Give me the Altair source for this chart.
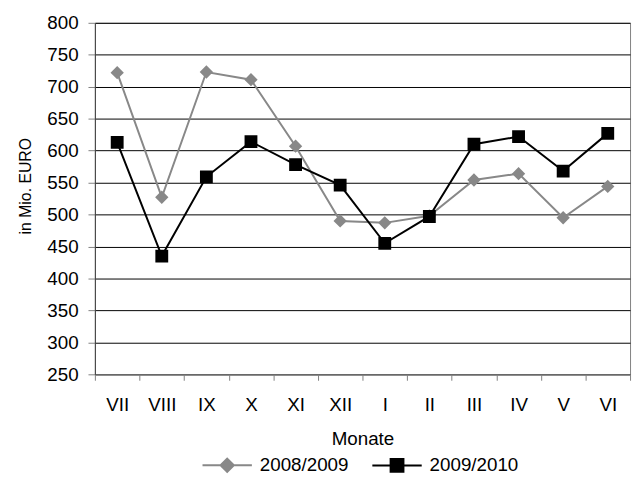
import altair as alt
import pandas as pd

months = ["VII", "VIII", "IX", "X", "XI", "XII", "I", "II", "III", "IV", "V", "VI"]
s2008 = [722, 527, 723, 711, 607, 490, 487, 498, 554, 564, 495, 544]
s2009 = [613, 435, 559, 614, 578, 546, 455, 497, 610, 622, 568, 627]
series = ["2008/2009", "2009/2010"]
y_ticks = list(range(250, 801, 50))

rows = []
for m, a, b in zip(months, s2008, s2009):
    rows.append({"Monat": m, "Reihe": series[0], "Wert": a})
    rows.append({"Monat": m, "Reihe": series[1], "Wert": b})
df = pd.DataFrame(rows)

FONT = "Liberation Sans"
FS = 19
colors = ["#888888", "#000000"]

x_enc = alt.X("Monat:N", sort=months, title="Monate",
              scale=alt.Scale(paddingInner=0, paddingOuter=0),
              axis=alt.Axis(labelAngle=0, tickBand="extent", tickSize=6,
                            labelPadding=16, titlePadding=15, grid=False,
                            domainColor="#808080", tickColor="#808080"))
y_enc = alt.Y("Wert:Q", title="in Mio. EURO",
              scale=alt.Scale(domain=[250, 800], nice=False, zero=False),
              axis=alt.Axis(values=y_ticks, tickSize=7, labelPadding=10,
                            titlePadding=13, titleFontSize=16, titleY=165,
                            grid=True, gridColor="#000000", gridOpacity=1,
                            gridWidth=1, domainColor="#404040",
                            tickColor="#808080"))

legend_paths = [
    "M-1,0H1M0,-0.27L0.27,0L0,0.27L-0.27,0Z",
    "M-1,0H1M-0.26,-0.26H0.26V0.26H-0.26Z",
]
leg = alt.Legend(title=None, orient="none", direction="horizontal",
                 legendX=108, legendY=422, padding=0,
                 symbolSize=2500, symbolStrokeWidth=2, labelFontSize=FS,
                 labelFont=FONT, labelColor="#000000", columnPadding=20,
                 labelOffset=7)

base = alt.Chart(df)
color_enc = alt.Color("Reihe:N", scale=alt.Scale(domain=series, range=colors), legend=leg)

lines = base.mark_line(strokeWidth=2).encode(
    x=x_enc, y=y_enc, color=color_enc,
)

points = base.mark_point(filled=True, opacity=1, size=2500, strokeWidth=0).encode(
    x=x_enc, y=y_enc, color=color_enc,
    shape=alt.Shape("Reihe:N", scale=alt.Scale(domain=series, range=legend_paths), legend=leg),
)

chart = alt.layer(lines, points).properties(
    width=542, height=356,
    autosize=alt.AutoSizeParams(type="none"),
    padding={"left": 88, "top": 12, "right": 4, "bottom": 102},
).configure_view(
    stroke="#808080", strokeWidth=1
).configure_axis(
    labelFont=FONT, titleFont=FONT, labelFontSize=FS, titleFontSize=FS,
    labelColor="#000000", titleColor="#000000", titleFontWeight="normal",
)

chart.save("out.html", embed_options={"renderer": "svg", "actions": False})
